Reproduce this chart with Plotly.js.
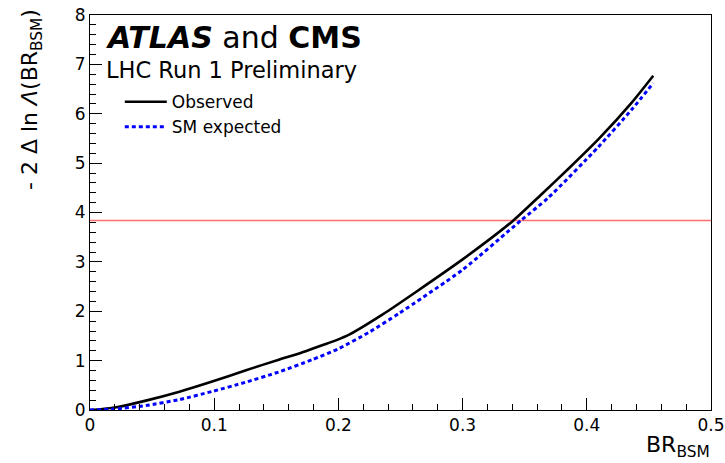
<!DOCTYPE html>
<html>
<head>
<meta charset="utf-8">
<script src="https://cdn.plot.ly/plotly-3.0.1.min.js"></script>
<style>html,body{margin:0;padding:0;background:#fff;}#chart{width:725px;height:463px;}</style>
</head>
<body>
<div id="chart"></div>
<script>
// Observed curve
const obsBR = [0, 0.01, 0.02, 0.045, 0.072, 0.099, 0.125, 0.152, 0.169, 0.179, 0.188, 0.198, 0.209, 0.236, 0.263, 0.300, 0.340, 0.364, 0.385, 0.410, 0.436, 0.4535];
const obsNLL = [0, 0.02, 0.05, 0.19, 0.37, 0.58, 0.80, 1.02, 1.15, 1.24, 1.32, 1.41, 1.53, 1.94, 2.40, 3.05, 3.82, 4.38, 4.88, 5.50, 6.22, 6.77];
// SM expected curve
const expBR = [0, 0.02, 0.045, 0.072, 0.099, 0.125, 0.152, 0.179, 0.200, 0.225, 0.249, 0.300, 0.347, 0.369, 0.409, 0.436, 0.4535];
const expNLL = [0, 0.02, 0.09, 0.21, 0.38, 0.56, 0.77, 1.02, 1.24, 1.58, 1.96, 2.84, 3.84, 4.30, 5.32, 6.08, 6.62];
// 95% CL threshold line
const thrBR = [0, 0.5];
const thrNLL = [3.84, 3.84];
// axis ticks
const xTicks = [0, 0.1, 0.2, 0.3, 0.4, 0.5];
const xTickText = ["0", "0.1", "0.2", "0.3", "0.4", "0.5"];
const yTicks = [0, 1, 2, 3, 4, 5, 6, 7, 8];
const yTickText = ["0", "1", "2", "3", "4", "5", "6", "7", "8"];

const FONT = "DejaVu Sans, Liberation Sans, Arial, sans-serif";

const traces = [
  {x: thrBR, y: thrNLL, mode: "lines", line: {color: "rgb(255,110,110)", width: 1.5}, showlegend: false, hoverinfo: "skip"},
  {x: obsBR, y: obsNLL, mode: "lines", name: "Observed", line: {color: "black", width: 2.6, shape: "spline", smoothing: 0.6}},
  {x: expBR, y: expNLL, mode: "lines", name: "SM expected", line: {color: "#0000ff", width: 3, dash: "4px,3px", shape: "spline", smoothing: 0.6}}
];

const layout = {
  width: 725, height: 463,
  margin: {l: 90, r: 14, t: 15, b: 53},
  paper_bgcolor: "white", plot_bgcolor: "white",
  font: {family: FONT, color: "black", size: 17},
  showlegend: true,
  legend: {x: 0.048, y: 0.825, xanchor: "left", yanchor: "top", bgcolor: "rgba(0,0,0,0)", itemwidth: 42,
           font: {family: FONT, size: 17, color: "black"}, tracegroupgap: 0},
  xaxis: {range: [0, 0.5], showgrid: false, zeroline: false, showline: true, linecolor: "black", linewidth: 1,
          mirror: true, ticks: "inside", ticklen: 12, tickcolor: "black", tickwidth: 1, ticklabeloverflow: "allow",
          tickvals: xTicks, ticktext: xTickText, tickfont: {family: FONT, size: 17},
          minor: {dtick: 0.02, ticks: "inside", ticklen: 6, tickcolor: "black", tickwidth: 1, showgrid: false}},
  yaxis: {range: [0, 8], showgrid: false, zeroline: false, showline: true, linecolor: "black", linewidth: 1,
          mirror: true, ticks: "inside", ticklen: 12, tickcolor: "black", tickwidth: 1, ticklabeloverflow: "allow",
          tickvals: yTicks, ticktext: yTickText, tickfont: {family: FONT, size: 17},
          minor: {dtick: 0.2, ticks: "inside", ticklen: 6, tickcolor: "black", tickwidth: 1, showgrid: false}},
  annotations: [
    {text: "<b><i>ATLAS</i></b> and <b>CMS</b>", xref: "paper", yref: "paper", x: 0.024, y: 0.943,
     xanchor: "left", yanchor: "middle", showarrow: false, borderpad: 0, font: {family: FONT, size: 30, color: "black"}},
    {text: "LHC Run 1 Preliminary", xref: "paper", yref: "paper", x: 0.024, y: 0.862,
     xanchor: "left", yanchor: "middle", showarrow: false, borderpad: 0, font: {family: FONT, size: 22.5, color: "black"}},
    {text: "- 2 Δ ln <i>Λ</i>(BR<sub>BSM</sub>)", xref: "paper", yref: "paper", x: -0.094, y: 1.018,
     xanchor: "center", yanchor: "top", textangle: -90, showarrow: false, borderpad: 0, font: {family: FONT, size: 22, color: "black"}},
    {text: "BR<sub>BSM</sub>", xref: "paper", yref: "paper", x: 1.0, y: -0.092,
     xanchor: "right", yanchor: "middle", showarrow: false, borderpad: 0, font: {family: FONT, size: 22, color: "black"}}
  ]
};

Plotly.newPlot("chart", traces, layout, {displayModeBar: false, staticPlot: true});
</script>
</body>
</html>
